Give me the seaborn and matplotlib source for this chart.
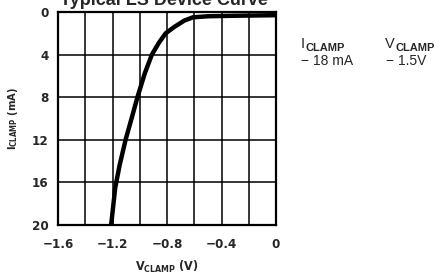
import matplotlib
matplotlib.use("Agg")
import matplotlib.pyplot as plt
import seaborn as sns
import pandas as pd

# Data
v_clamp = [-1.21, -1.18, -1.148, -1.104, -1.06, -1.017, -0.963, -0.911, -0.86, -0.81, -0.746, -0.672, -0.61, -0.5, -0.3, 0.0]
i_clamp = [20.0, 16.5, 14.4, 12.0, 10.0, 8.0, 5.76, 4.0, 2.9, 2.0, 1.4, 0.8, 0.5, 0.4, 0.35, 0.3]
x_ticks = [-1.6, -1.2, -0.8, -0.4, 0.0]
x_ticklabels = ["\u22121.6", "\u22121.2", "\u22120.8", "\u22120.4", "0"]
y_ticks = [0, 4, 8, 12, 16, 20]

sns.set_style("white")
plt.rcParams["font.family"] = ["DejaVu Sans"]
plt.rcParams["font.stretch"] = "condensed"
plt.rcParams["mathtext.fontset"] = "custom"
plt.rcParams["mathtext.rm"] = "DejaVu Sans:weight=bold:stretch=condensed"
plt.rcParams["mathtext.bf"] = "DejaVu Sans:weight=bold:stretch=condensed"

fig = plt.figure(figsize=(4.46, 2.78), dpi=100)
ax = fig.add_axes([58/446, 53/278, 218/446, 213/278])

df = pd.DataFrame({"V": v_clamp, "I": i_clamp})
sns.lineplot(data=df, x="V", y="I", ax=ax, color="black", linewidth=3.2,
             sort=False, estimator=None, solid_joinstyle="round")

ax.set_xlim(-1.6, 0)
ax.set_ylim(20, 0)
ax.set_xticks(x_ticks)
ax.set_xticks([-1.4, -1.0, -0.6, -0.2], minor=True)
ax.grid(True, which="major", color="black", linewidth=1.1)
ax.grid(True, which="minor", axis="x", color="black", linewidth=1.1)
ax.set_xticklabels(x_ticklabels, fontsize=9.5, fontweight="bold")
ax.set_yticks(y_ticks)
ax.set_yticklabels([str(t) for t in y_ticks], fontsize=9.5, fontweight="bold")
ax.tick_params(axis="both", which="both", length=0)
ax.tick_params(axis="y", pad=7)
ax.tick_params(axis="x", pad=9)
for s in ax.spines.values():
    s.set_visible(True)
    s.set_color("black")
    s.set_linewidth(1.6)

ax.set_xlabel(r"V$_{\mathrm{CLAMP}}$ (V)", fontsize=9, fontweight="bold", labelpad=6)
ax.set_ylabel(r"I$_{\mathrm{CLAMP}}$ (mA)", fontsize=8, fontweight="bold", labelpad=8)

fig.text(164/446, 1 - 5/278, "Typical LS Device Curve", ha="center", va="baseline",
         fontsize=13, fontweight="bold", family=["Liberation Sans", "DejaVu Sans"],
         stretch="normal")

side = dict(ha="left", va="baseline", family=["Liberation Sans", "DejaVu Sans"], stretch="normal")
fig.text(301/446, 1 - 48/278, "I", fontsize=10.5, **side)
fig.text(305/446, 1 - 51/278, "CLAMP", fontsize=8, fontweight="bold", **side)
fig.text(385/446, 1 - 48/278, "V", fontsize=10.5, **side)
fig.text(395/446, 1 - 51/278, "CLAMP", fontsize=8, fontweight="bold", **side)
fig.text(301/446, 1 - 65/278, "\u2212 18 mA", fontsize=10, **side)
fig.text(386/446, 1 - 65/278, "\u2212 1.5V", fontsize=10, **side)

fig.savefig("out.png", dpi=100)
